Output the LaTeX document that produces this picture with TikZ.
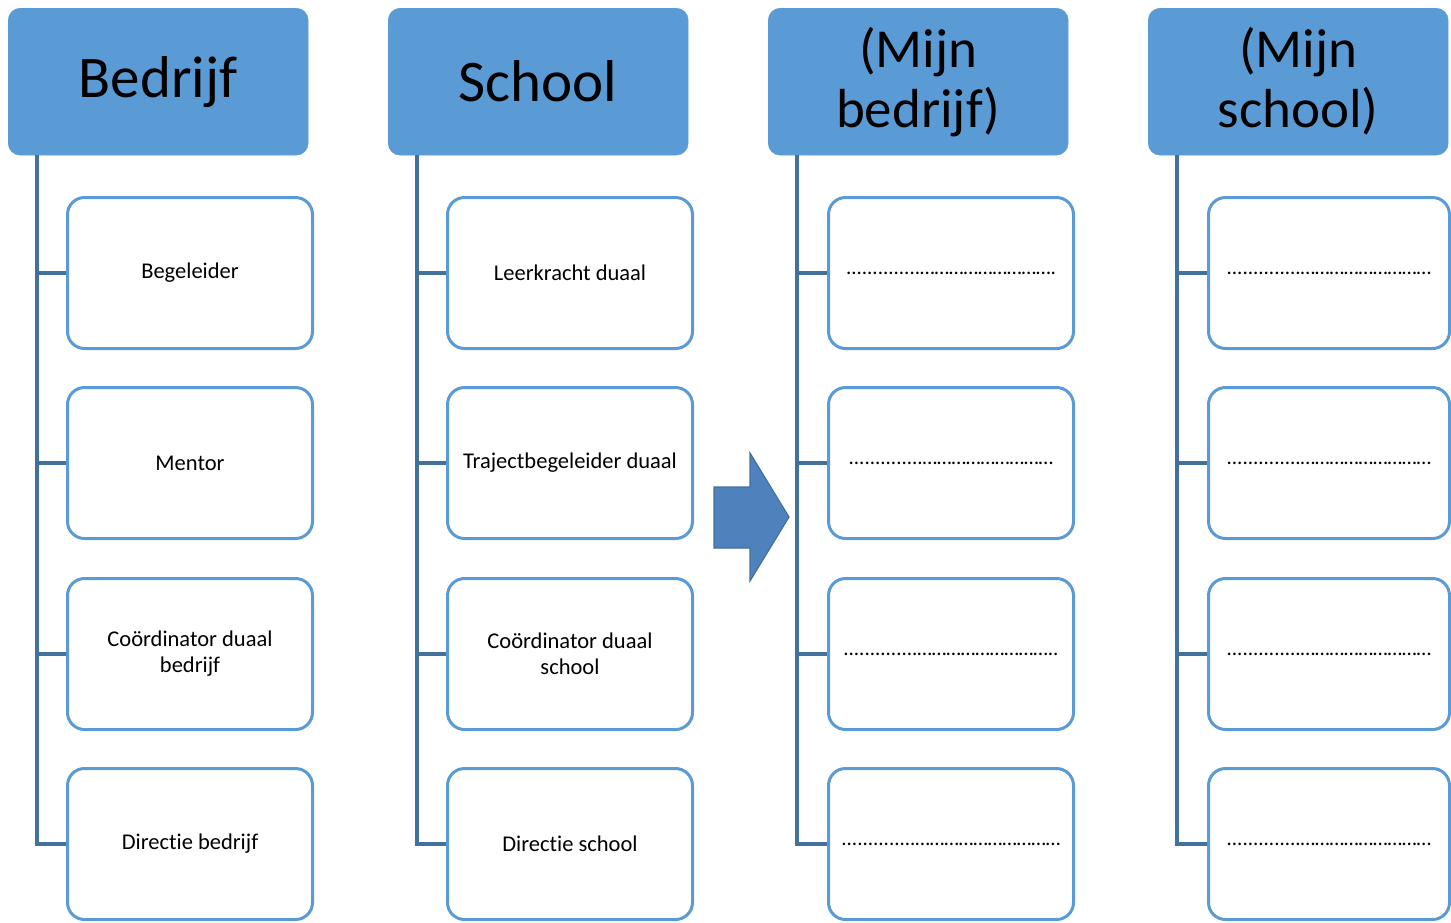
\documentclass[tikz,border=0pt]{standalone}
\usepackage{fontspec}
\setmainfont{Carlito}[Ligatures=NoCommon]
\usetikzlibrary{calc}
\definecolor{hdrfill}{HTML}{5B9BD5}
\definecolor{chborder}{HTML}{5B9BD5}
\definecolor{conn}{HTML}{41719C}
\definecolor{arrfill}{HTML}{4F81BD}
\tikzset{
  hdr/.style={draw=hdrfill, fill=hdrfill, rounded corners=12pt, minimum width=300pt, minimum height=147pt, anchor=north west, inner sep=0pt, align=center, text=black},
  hdrbig/.style={font=\fontsize{59}{70}\selectfont},
  hdrtwo/.style={font=\fontsize{55}{60}\selectfont},
  child/.style={draw=chborder, line width=3pt, fill=white, rounded corners=17pt, minimum width=245pt, minimum height=151pt, anchor=north west, inner sep=0pt, align=center, font=\fontsize{22.5}{26}\selectfont},
  childn/.style={child, minimum width=241pt},
  dots/.style={font=\fontsize{21}{24}\selectfont},
  link/.style={draw=conn, line width=3.2pt},
  bigarrow/.style={fill=arrfill, draw=conn, line width=1.2pt, line join=miter}
}
\begin{document}
\begin{tikzpicture}[x=1pt,y=-1pt]
\useasboundingbox (0,0) rectangle (1451,922);
% headers
\node[hdr,hdrbig] (h1) at (8,8) {Bedrijf};
\node[hdr,hdrbig] (h2) at (388,8) {School};
\node[hdr,hdrtwo] (h3) at (768,8) {(Mijn\\bedrijf)};
\node[hdr,hdrtwo] (h4) at (1148,8) {(Mijn\\school)};
% column 1
\node[child] (c11) at (66,196) {Begeleider};
\node[child] (c12) at (66,386) {Mentor};
\node[child] (c13) at (66,577) {Coördinator duaal\\bedrijf};
\node[child] (c14) at (66,767) {Directie bedrijf};
% column 2
\node[child] (c21) at (446,196) {Leerkracht duaal};
\node[child] (c22) at (446,386) {Trajectbegeleider duaal};
\node[child] (c23) at (446,577) {Coördinator duaal\\school};
\node[child] (c24) at (446,767) {Directie school};
% column 3
\node[child,dots] (c31) at (827,196) {..............……………………….};
\node[child,dots] (c32) at (827,386) {..............………………………};
\node[child,dots] (c33) at (827,577) {..............………………………..};
\node[child,dots] (c34) at (827,767) {..............…………………………};
% column 4
\node[childn,dots] (c41) at (1207,196) {..............………………………};
\node[childn,dots] (c42) at (1207,386) {..............………………………};
\node[childn,dots] (c43) at (1207,577) {..............………………………};
\node[childn,dots] (c44) at (1207,767) {..............………………………};
% trunks
\foreach \i in {1,2,3,4}{
  \coordinate (t\i) at ($(h\i.south west)+(29,0)$);
  \draw[link] (t\i) |- (c\i4.west);
  \draw[link] (t\i |- c\i1.west) -- (c\i1.west);
  \draw[link] (t\i |- c\i2.west) -- (c\i2.west);
  \draw[link] (t\i |- c\i3.west) -- (c\i3.west);
}
% block arrow
\draw[bigarrow] (714,487) -- (750,487) -- (750,453) -- (789,517) -- (750,581) -- (750,548) -- (714,548) -- cycle;
\end{tikzpicture}
\end{document}
